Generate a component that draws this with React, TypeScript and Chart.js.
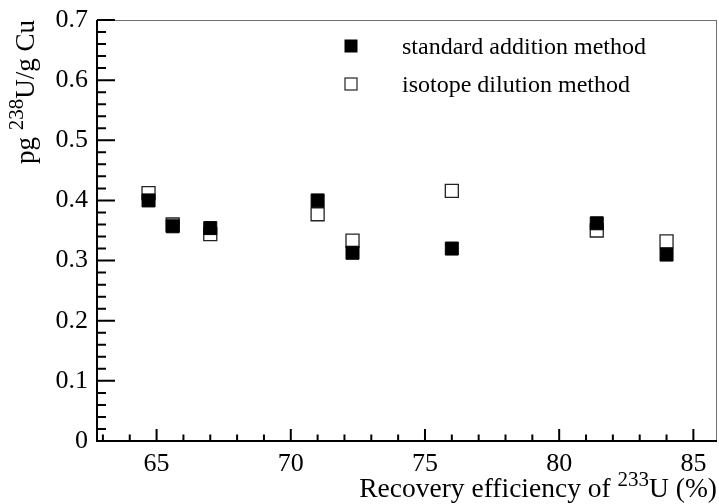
import { useEffect, useRef } from "react";
import { Chart, registerables } from "chart.js";
Chart.register(...registerables);

const recovery = [64.7, 65.6, 67.0, 71.0, 72.3, 76.0, 81.4, 84.0];
const standardAddition = [0.4, 0.357, 0.354, 0.4, 0.313, 0.32, 0.362, 0.31];
const isotopeDilution = [0.412, 0.36, 0.344, 0.377, 0.333, 0.416, 0.35, 0.332];
const xTicks = [65, 70, 75, 80, 85];
const yTicks = [0, 0.1, 0.2, 0.3, 0.4, 0.5, 0.6, 0.7];
const seriesNames = ["standard addition method", "isotope dilution method"];

const FONT = "'Liberation Serif', 'Times New Roman', serif";

function drawSupText(
  ctx: CanvasRenderingContext2D,
  parts: { t: string; sup?: boolean }[],
  size: number,
  xEnd: number,
  y: number
) {
  const supSize = Math.round(size * 0.76);
  const widths = parts.map((p) => {
    ctx.font = `${p.sup ? supSize : size}px ${FONT}`;
    return ctx.measureText(p.t).width;
  });
  const total = widths.reduce((a, b) => a + b, 0);
  let x = xEnd - total;
  parts.forEach((p, i) => {
    ctx.font = `${p.sup ? supSize : size}px ${FONT}`;
    ctx.fillText(p.t, x, p.sup ? y - size * 0.4 : y);
    x += widths[i];
  });
  return total;
}

const framePlugin = {
  id: "rootFrame",
  afterDraw(chart: any) {
    const { ctx, chartArea } = chart;
    const xs = chart.scales.x;
    const ys = chart.scales.y;
    const { left, right, top, bottom } = chartArea;
    ctx.save();
    ctx.strokeStyle = "#707070";
    ctx.lineWidth = 1;
    ctx.beginPath();
    ctx.moveTo(left, Math.round(top) + 0.5);
    ctx.lineTo(right, Math.round(top) + 0.5);
    ctx.moveTo(Math.round(right) - 0.5, top);
    ctx.lineTo(Math.round(right) - 0.5, bottom);
    ctx.stroke();
    ctx.strokeStyle = "#000";
    ctx.lineWidth = 2;
    ctx.beginPath();
    ctx.moveTo(left, top);
    ctx.lineTo(left, bottom + 1);
    ctx.moveTo(left - 1, bottom);
    ctx.lineTo(right, bottom);
    for (let i = 0; i <= 35; i++) {
      const v = i * 0.02;
      const py = ys.getPixelForValue(v);
      const len = i % 5 === 0 ? 18 : 9;
      ctx.moveTo(left, py);
      ctx.lineTo(left + len, py);
    }
    for (let v = Math.ceil(xs.min); v <= xs.max; v++) {
      const px = xs.getPixelForValue(v);
      const len = v % 5 === 0 ? 12 : 6.5;
      ctx.moveTo(px, bottom);
      ctx.lineTo(px, bottom - len);
    }
    ctx.stroke();

    const ds = chart.data.datasets;
    const rows = [46, 84];
    ds.forEach((d: any, i: number) => {
      const cy = rows[i];
      const cx = 351;
      const s = 13;
      if (i === 0) {
        ctx.fillStyle = d.backgroundColor;
        ctx.fillRect(cx - s / 2, cy - s / 2, s, s);
      } else {
        ctx.strokeStyle = d.borderColor;
        ctx.lineWidth = 1.2;
        ctx.strokeRect(cx - s / 2 + 0.5, cy - s / 2 + 0.5, s - 1, s - 1);
      }
      ctx.fillStyle = "#000";
      ctx.font = `24px ${FONT}`;
      ctx.textAlign = "left";
      ctx.textBaseline = "alphabetic";
      ctx.fillText(d.label, 402, cy + 8);
    });

    ctx.fillStyle = "#000";
    ctx.textAlign = "left";
    ctx.textBaseline = "alphabetic";
    drawSupText(
      ctx,
      [{ t: "Recovery efficiency of " }, { t: "233", sup: true }, { t: "U (%)" }],
      27.5,
      right,
      497
    );
    ctx.save();
    ctx.translate(34, top);
    ctx.rotate(-Math.PI / 2);
    drawSupText(
      ctx,
      [{ t: "pg " }, { t: "238", sup: true }, { t: "U/g Cu" }],
      27,
      0,
      0
    );
    ctx.restore();
    ctx.restore();
  },
};

export default function App() {
  const ref = useRef<HTMLCanvasElement | null>(null);
  useEffect(() => {
    if (!ref.current) return;
    const chart = new Chart(ref.current, {
      type: "scatter",
      data: {
        datasets: [
          {
            label: seriesNames[0],
            data: recovery.map((x, i) => ({ x, y: standardAddition[i] })),
            pointStyle: "rect",
            pointRadius: 9.2,
            pointHoverRadius: 9.2,
            backgroundColor: "#000",
            borderColor: "#000",
            borderWidth: 1,
          },
          {
            label: seriesNames[1],
            data: recovery.map((x, i) => ({ x, y: isotopeDilution[i] })),
            pointStyle: "rect",
            pointRadius: 9.2,
            pointHoverRadius: 9.2,
            backgroundColor: "rgba(255,255,255,0)",
            borderColor: "#222",
            borderWidth: 1.3,
          },
        ],
      },
      options: {
        animation: false,
        responsive: false,
        devicePixelRatio: 1,
        layout: { autoPadding: false, padding: { top: 20, right: 2, left: 0, bottom: 0 } },
        plugins: { legend: { display: false }, tooltip: { enabled: false } },
        scales: {
          x: {
            type: "linear",
            min: 62.78,
            max: 85.88,
            grid: { display: false, drawTicks: false },
            border: { display: false },
            afterBuildTicks: (s: any) => {
              s.ticks = xTicks.map((v) => ({ value: v }));
            },
            afterFit: (s: any) => {
              s.height = 63;
              s.paddingLeft = 0;
              s.paddingRight = 0;
            },
            ticks: {
              font: { family: FONT, size: 26 },
              color: "#000",
              padding: 8,
              maxRotation: 0,
              autoSkip: false,
              callback: (v: any) => String(v),
            },
          },
          y: {
            type: "linear",
            min: 0,
            max: 0.7,
            grid: { display: false, drawTicks: false },
            border: { display: false },
            afterBuildTicks: (s: any) => {
              s.ticks = yTicks.map((v) => ({ value: v }));
            },
            afterFit: (s: any) => {
              s.width = 97;
              s.paddingTop = 0;
              s.paddingBottom = 0;
            },
            ticks: {
              font: { family: FONT, size: 26 },
              color: "#000",
              padding: 9,
              autoSkip: false,
              callback: (v: any) => (Number(v) === 0 ? "0" : Number(v).toFixed(1)),
            },
          },
        },
      },
      plugins: [framePlugin],
    });
    return () => chart.destroy();
  }, []);
  return (
    <div style={{ position: "absolute", left: 0, top: 0, width: 719, height: 504, background: "#fff" }}>
      <canvas ref={ref} width={719} height={504} style={{ display: "block" }} />
    </div>
  );
}
